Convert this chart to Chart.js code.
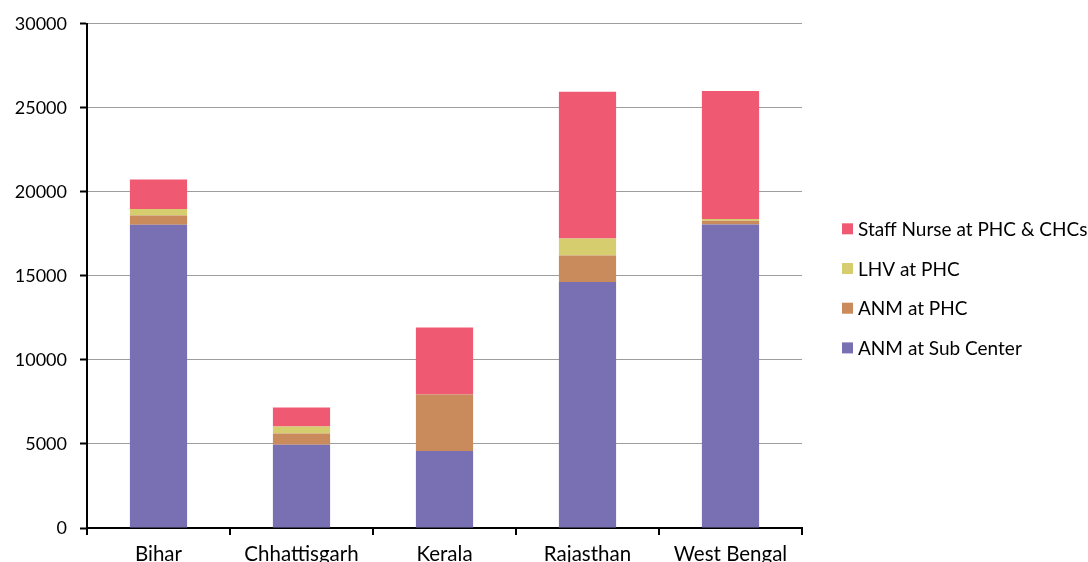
<!DOCTYPE html>
<html>
<head>
<meta charset="utf-8">
<script src="https://cdn.jsdelivr.net/npm/chart.js@4/dist/chart.umd.min.js"></script>
<style>
  html, body { margin: 0; padding: 0; background: #fff; overflow: hidden; }
  #wrap { width: 1088px; height: 580px; }
</style>
</head>
<body>
<div id="wrap"><canvas id="c" width="1088" height="580"></canvas></div>
<script>
// Health workforce by state, stacked from the bottom up
const states = ['Bihar', 'Chhattisgarh', 'Kerala', 'Rajasthan', 'West Bengal'];
const anmSubCenter = [18050, 4950, 4580, 14630, 18060];
const anmPhc = [550, 680, 3370, 1580, 220];
const lhvPhc = [380, 410, 0, 1010, 100];
const staffNurse = [1760, 1130, 3980, 8730, 7620];
const yTicks = [0, 5000, 10000, 15000, 20000, 25000, 30000];

const FONT = 'Lato';

// Legend drawn beside the plot, top entry = top of the stack
const sideLegend = {
  id: 'sideLegend',
  afterDraw(chart) {
    const ctx = chart.ctx;
    const area = chart.chartArea;
    const x = area.right + 40;
    const firstRow = area.top + 205;
    const rowGap = 39.7;
    const items = chart.data.datasets.slice().reverse();
    ctx.save();
    ctx.font = '19px ' + FONT;
    ctx.textAlign = 'left';
    ctx.textBaseline = 'alphabetic';
    items.forEach((ds, i) => {
      const cy = firstRow + i * rowGap;
      ctx.fillStyle = ds.backgroundColor;
      ctx.fillRect(x, cy - 5.5, 11, 11);
      ctx.fillStyle = '#000';
      ctx.fillText(ds.label, x + 16, cy + 7);
    });
    ctx.restore();
  }
};

new Chart(document.getElementById('c'), {
  type: 'bar',
  data: {
    labels: states,
    datasets: [
      { label: 'ANM at Sub Center', data: anmSubCenter, backgroundColor: '#7870b2' },
      { label: 'ANM at PHC', data: anmPhc, backgroundColor: '#c98a5c' },
      { label: 'LHV at PHC', data: lhvPhc, backgroundColor: '#d6cd6e' },
      { label: 'Staff Nurse at PHC & CHCs', data: staffNurse, backgroundColor: '#ef5a72' }
    ]
  },
  options: {
    responsive: false,
    animation: false,
    layout: { padding: { left: 0, top: 23, right: 286, bottom: 0 } },
    datasets: { bar: { categoryPercentage: 1, barPercentage: 0.4, borderWidth: 0 } },
    plugins: { legend: { display: false }, tooltip: { enabled: false } },
    scales: {
      x: {
        stacked: true,
        offset: true,
        border: { display: true, color: '#000', width: 2 },
        grid: { offset: true, drawOnChartArea: false, drawTicks: true, tickLength: 7, color: '#000', lineWidth: 2 },
        ticks: { color: '#000', font: { family: FONT, size: 20.5 }, padding: 7, maxRotation: 0 },
        afterFit(scale) { scale.height = 52; }
      },
      y: {
        stacked: true,
        min: 0,
        max: 30000,
        afterBuildTicks(scale) { scale.ticks = yTicks.map(v => ({ value: v })); },
        border: { display: true, color: '#000', width: 2 },
        grid: { color: '#9d9d9d', lineWidth: 1, drawTicks: true, tickLength: 7, tickColor: '#000', tickWidth: 2 },
        ticks: { color: '#000', font: { family: FONT, size: 18 }, padding: 13, callback: v => String(v) },
        afterFit(scale) { scale.width = 87; }
      }
    }
  },
  plugins: [sideLegend]
});
</script>
</body>
</html>
